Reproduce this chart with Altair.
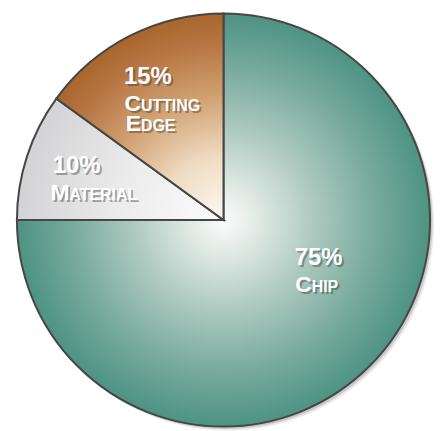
import math
import altair as alt
import pandas as pd

# ---- data ----
categories = ["Chip", "Material", "Cutting Edge"]
values = [75, 10, 15]
pct_labels = ["75%", "10%", "15%"]
line1_words = ["CHIP", "MATERIAL", "CUTTING"]
line2_words = ["", "", "EDGE"]

df = pd.DataFrame({
    "category": categories,
    "value": values,
    "pct": pct_labels,
    "w1": line1_words,
    "w2": line2_words,
})

# ---- styles ----
FONT = "Liberation Sans"
R = 208
theta_scale = alt.Scale(domain=[0, 100], range=[0, 2 * math.pi])

gradients = {
    "Chip": alt.RadialGradient(
        gradient="radial", x1=0.5, y1=0.5, r1=0, x2=0.5, y2=0.5, r2=0.5,
        stops=[
            alt.GradientStop(offset=0, color="#fbfcfb"),
            alt.GradientStop(offset=0.15, color="#e3ebe7"),
            alt.GradientStop(offset=0.45, color="#abc8be"),
            alt.GradientStop(offset=0.75, color="#75a99b"),
            alt.GradientStop(offset=1, color="#4e9383"),
        ]),
    "Material": alt.RadialGradient(
        gradient="radial", x1=1.0, y1=0.794, r1=0, x2=1.0, y2=0.794, r2=1.0,
        stops=[
            alt.GradientStop(offset=0, color="#fcfcfc"),
            alt.GradientStop(offset=0.5, color="#ececec"),
            alt.GradientStop(offset=1, color="#d3d3d5"),
        ]),
    "Cutting Edge": alt.RadialGradient(
        gradient="radial", x1=0.905, y1=1.0, r1=0, x2=0.905, y2=1.0, r2=1.0,
        stops=[
            alt.GradientStop(offset=0, color="#fdf9f4"),
            alt.GradientStop(offset=0.3, color="#f0dcc4"),
            alt.GradientStop(offset=0.6, color="#d1a171"),
            alt.GradientStop(offset=0.85, color="#b67643"),
            alt.GradientStop(offset=1, color="#a9652c"),
        ]),
}

# label placement style per slice: radius of anchor and horizontal shift
label_style = {
    "Chip": dict(r=69, dx=23),
    "Material": dict(r=142, dx=-37),
    "Cutting Edge": dict(r=150, dx=-32),
}

base = alt.Chart(df).transform_window(
    cum="sum(value)", frame=[None, 0]
).transform_calculate(
    start="datum.cum - datum.value",
    mid="datum.cum - datum.value / 2",
    i1="substring(datum.w1, 0, 1)",
    r1="substring(datum.w1, 1)",
    i2="substring(datum.w2, 0, 1)",
    r2="substring(datum.w2, 1)",
)

layers = []
# soft drop shadow behind the pie
for off, op in ((4, 0.12), (2.5, 0.22)):
    layers.append(
        base.mark_arc(radius=R, fill="#555555", opacity=op, xOffset=off, yOffset=off)
        .encode(
            theta=alt.Theta("start:Q", scale=theta_scale, stack=None),
            theta2="cum:Q",
        )
    )

for cat in categories:
    layers.append(
        base.transform_filter(alt.datum.category == cat)
        .mark_arc(radius=R, fill=gradients[cat], stroke="#464646", strokeWidth=2)
        .encode(
            theta=alt.Theta("start:Q", scale=theta_scale, stack=None),
            theta2="cum:Q",
        )
    )

def text_layer(cat, field, align, dx, dy, size, color, opacity=1.0):
    st = label_style[cat]
    return (
        base.transform_filter(alt.datum.category == cat)
        .mark_text(align=align, baseline="alphabetic", dx=st["dx"] + dx, dy=dy - 3,
                   fontSize=size, fontWeight="bold", font=FONT,
                   color=color, opacity=opacity)
        .encode(
            theta=alt.Theta("mid:Q", scale=theta_scale, stack=None),
            radius=alt.value(st["r"]),
            text=f"{field}:N",
        )
    )

INIT_W = 17
for cat in categories:
    for shadow in (True, False):
        off = 2 if shadow else 0
        col = "#333333" if shadow else "white"
        op = 0.4 if shadow else 1.0
        layers.append(text_layer(cat, "pct", "left", off, off, 24, col, op))
        layers.append(text_layer(cat, "i1", "right", INIT_W + off, 27 + off, 23, col, op))
        layers.append(text_layer(cat, "r1", "left", INIT_W + off, 27 + off, 16, col, op))
        if cat == "Cutting Edge":
            layers.append(text_layer(cat, "i2", "right", INIT_W + off, 47 + off, 23, col, op))
            layers.append(text_layer(cat, "r2", "left", INIT_W + off, 47 + off, 16, col, op))

chart = alt.layer(*layers).properties(
    width=434, height=418, padding=0, background="white"
).configure_view(stroke=None)

chart.save("out.html", embed_options={"renderer": "svg", "actions": False})
